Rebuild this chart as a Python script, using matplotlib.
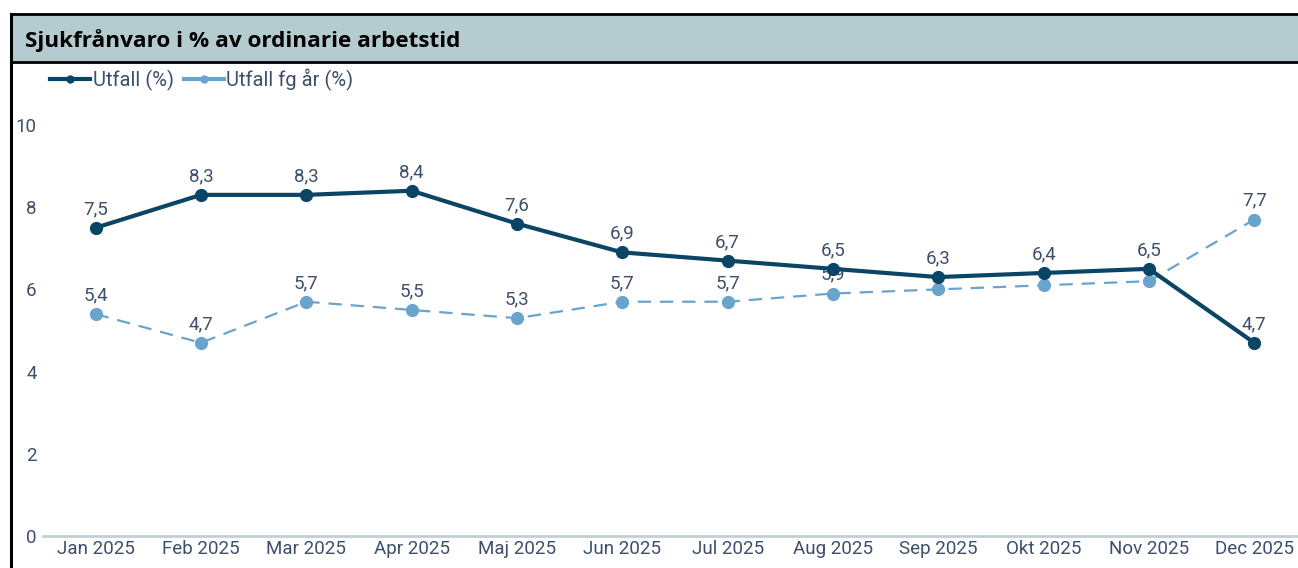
import matplotlib
matplotlib.use("Agg")
import matplotlib.pyplot as plt
from matplotlib.patches import Rectangle
from matplotlib.lines import Line2D

months = ["Jan 2025", "Feb 2025", "Mar 2025", "Apr 2025", "Maj 2025", "Jun 2025",
          "Jul 2025", "Aug 2025", "Sep 2025", "Okt 2025", "Nov 2025", "Dec 2025"]
utfall = [7.5, 8.3, 8.3, 8.4, 7.6, 6.9, 6.7, 6.5, 6.3, 6.4, 6.5, 4.7]
utfall_fg = [5.4, 4.7, 5.7, 5.5, 5.3, 5.7, 5.7, 5.9, 6.0, 6.1, 6.2, 7.7]
show_fg_label = [True, True, True, True, True, True, True, True, False, False, False, True]
yticks = [0, 2, 4, 6, 8, 10]

title = "Sjukfrånvaro i % av ordinarie arbetstid"
dark = "#0B4566"
light = "#6AA3CB"
txt = "#3D4F6B"

plt.rcParams['font.family'] = ['Roboto', 'DejaVu Sans']

W, H = 1298, 568
fig = plt.figure(figsize=(W / 100, H / 100), dpi=100)

# Header bar and frame
fig.patches.append(Rectangle((11 / W, 1 - 62 / H), 1 - 11 / W, 48 / H, transform=fig.transFigure,
                             facecolor="#B4CCD0", edgecolor="none", zorder=0))
fig.lines.append(Line2D([11 / W, 1], [1 - 14 / H, 1 - 14 / H], transform=fig.transFigure, color="black", lw=2))
fig.lines.append(Line2D([11 / W, 1], [1 - 62 / H, 1 - 62 / H], transform=fig.transFigure, color="black", lw=2))
fig.lines.append(Line2D([11 / W, 11 / W], [0, 1 - 14 / H], transform=fig.transFigure, color="black", lw=2.2))
fig.text(25 / W, 1 - 41 / H, title, fontsize=16.2, fontweight="bold", color="black",
         ha="left", va="center", family=["Open Sans", "DejaVu Sans"])

ax = fig.add_axes([43 / W, (H - 536) / H, 1 - 43 / W, 411 / H])
x = list(range(len(months)))
ax.plot(x, utfall_fg, color=light, lw=1.6, ls=(0, (6, 4)), marker="o", ms=8.5, zorder=3, clip_on=False,
        label="Utfall fg år (%)")
ax.plot(x, utfall, color=dark, lw=3, marker="o", ms=8.5, zorder=4, clip_on=False, label="Utfall (%)")

for xi, v in zip(x, utfall):
    ax.annotate(f"{v:.1f}".replace(".", ","), (xi, v), xytext=(0, 7), textcoords="offset points",
                ha="center", va="bottom", fontsize=13.5, color=txt, zorder=5)
for xi, v, s in zip(x, utfall_fg, show_fg_label):
    if s:
        ax.annotate(f"{v:.1f}".replace(".", ","), (xi, v), xytext=(0, 7), textcoords="offset points",
                    ha="center", va="bottom", fontsize=13.5, color=txt, zorder=2)

ax.set_xlim(-0.5, 11.415)
ax.set_ylim(0, 10)
ax.set_yticks(yticks)
ax.set_yticklabels([str(t) for t in yticks])
ax.set_xticks(x)
ax.set_xticklabels(months)
for s in ["top", "right", "left"]:
    ax.spines[s].set_visible(False)
ax.spines["bottom"].set_color("#C3CED8")
ax.spines["bottom"].set_linewidth(2)
ax.tick_params(axis="x", length=0, pad=3, labelsize=13.5, labelcolor=txt)
ax.tick_params(axis="y", length=0, pad=4.5, labelsize=13.5, labelcolor=txt)
ax.patch.set_visible(False)

# legend
h1 = Line2D([], [], color=dark, lw=3, marker="o", ms=5)
h2 = Line2D([], [], color=light, lw=3, marker="o", ms=5)
leg = fig.legend([h1, h2], ["Utfall (%)", "Utfall fg år (%)"], loc="center left",
                 bbox_to_anchor=(50 / W, 1 - 80 / H), ncol=2, frameon=False, fontsize=14.5,
                 handlelength=2.0, handletextpad=0.12, columnspacing=0.5, borderpad=0, borderaxespad=0)
for t in leg.get_texts():
    t.set_color(txt)

fig.savefig("out.png", dpi=100)
